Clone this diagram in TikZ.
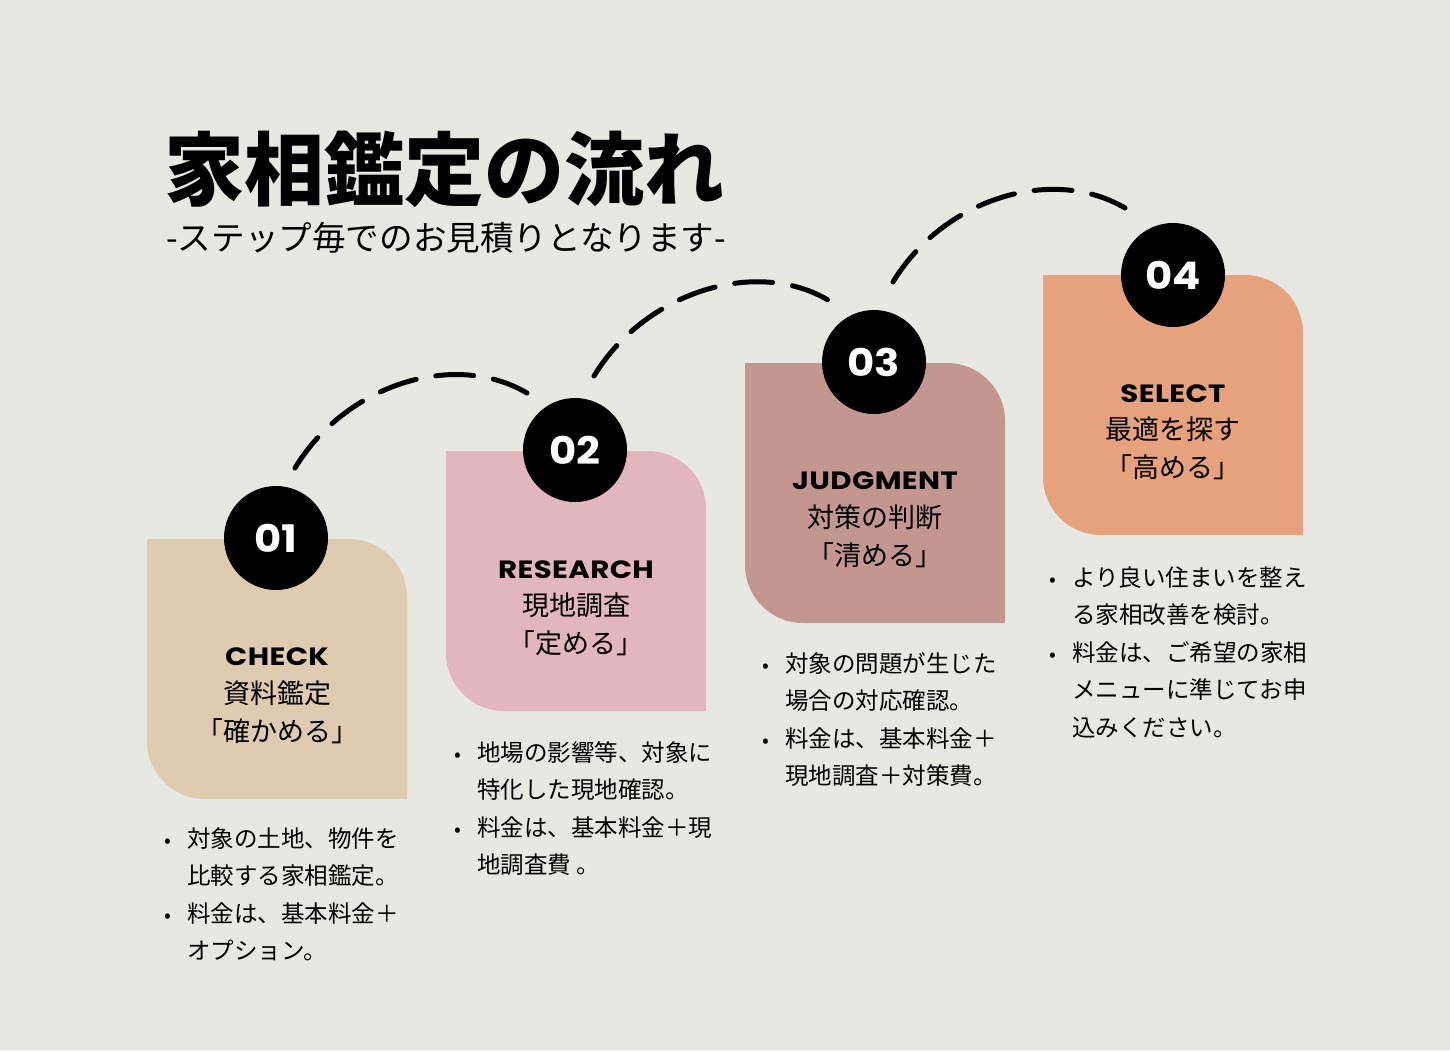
\documentclass[tikz,border=0pt]{standalone}
\usepackage{fontspec}
\setmainfont{Noto Sans CJK JP}
\newfontfamily\pop{Poppins}[FakeStretch=1.1]
\newfontfamily\pophd{Poppins}[FakeStretch=1.17, LetterSpace=1.5]
\usetikzlibrary{calc}
\definecolor{bgc}{HTML}{E8E8E2}
\definecolor{cone}{HTML}{DFCBAF}
\definecolor{ctwo}{HTML}{E2B6BD}
\definecolor{cthree}{HTML}{C3978F}
\definecolor{cfour}{HTML}{E5A27C}
\newcommand{\bulmark}{\llap{\makebox[39pt]{\fontsize{20}{20}\selectfont •}}}
\tikzset{
  leafbox/.pic={\path[pic actions] (0,0) -- (202,0) .. controls (234,0) and (260,26) .. (260,58) -- (260,260) -- (58,260) .. controls (26,260) and (0,234) .. (0,202) -- cycle;},
  numc/.style={circle, fill=black, minimum size=104pt, inner sep=0pt, text=white, font=\pop\bfseries\fontsize{38}{38}\selectfont},
  dashline/.style={line width=5pt, line cap=round, dash pattern=on 38pt off 20pt},
  lab/.style={anchor=north, align=center, inner sep=0pt, font=\fontsize{27}{37.7}\selectfont},
  item/.style={anchor=north west, align=left, inner sep=0pt, font=\fontsize{23.5}{37.5}\selectfont}
}
\newcommand{\hd}[1]{{\pophd\bfseries\fontsize{25}{25}\selectfont #1}}
\begin{document}
\begin{tikzpicture}[x=1pt,y=-1pt]
\fill[bgc] (0,0) rectangle (1450,1050);
\useasboundingbox (0,0) rectangle (1450,1050);
% title
\node[anchor=base west, inner sep=0pt, font=\bfseries\fontsize{80}{80}\selectfont] (title) at (164,199) {家相鑑定の流れ};
\node[anchor=base west, inner sep=0pt, font=\fontsize{33.6}{33.6}\selectfont] (subtitle) at (166,250) {-ステップ毎でのお見積りとなります-};
% boxes
\pic[fill=cone] at (147,539) {leafbox};
\pic[fill=ctwo] at (446,451) {leafbox};
\pic[fill=cthree] at (745,363) {leafbox};
\pic[fill=cfour] at (1043,275) {leafbox};
% circles
\node[numc] (n1) at (276,538) {01};
\node[numc] (n2) at (575,450) {02};
\node[numc] (n3) at (874,362) {03};
\node[numc] (n4) at (1173,275) {04};
% arcs
\coordinate (a1s) at (295,468);
\coordinate (a1e) at (527,393);
\coordinate (a2s) at (594,376);
\coordinate (a2e) at (828,300);
\coordinate (a3s) at (893,282);
\coordinate (a3e) at (1125,208);
\draw[dashline] (a1s) .. controls ($(a1s)+(50,-83)$) and ($(a1e)+(-73,-43)$) .. (a1e);
\draw[dashline] (a2s) .. controls ($(a2s)+(50,-83)$) and ($(a2e)+(-73,-43)$) .. (a2e);
\draw[dashline] (a3s) .. controls ($(a3s)+(50,-83)$) and ($(a3e)+(-73,-43)$) .. (a3e);
% labels
\node[lab] (l1) at (277,648) {\hd{CHECK}\\資料鑑定\\「確かめる」};
\node[lab] (l2) at (576,560) {\hd{RESEARCH}\\現地調査\\「定める」};
\node[lab] (l3) at (875,472) {\hd{JUDGMENT}\\対策の判断\\「清める」};
\node[lab] (l4) at (1173,384) {\hd{SELECT}\\最適を探す\\「高める」};
% items
\node[item] (t1) at (187,827) {\bulmark 対象の土地、物件を\\比較する家相鑑定。\\\bulmark 料金は、基本料金＋\\オプション。};
\node[item] (t2) at (477,741) {\bulmark 地場の影響等、対象に\\特化した現地確認。\\\bulmark 料金は、基本料金＋現\\地調査費 。};
\node[item] (t3) at (785,652) {\bulmark 対象の問題が生じた\\場合の対応確認。\\\bulmark 料金は、基本料金＋\\現地調査＋対策費。};
\node[item] (t4) at (1072,566) {\bulmark より良い住まいを整え\\る家相改善を検討。\\\bulmark 料金は、ご希望の家相\\メニューに準じてお申\\込みください。};
\end{tikzpicture}
\end{document}
